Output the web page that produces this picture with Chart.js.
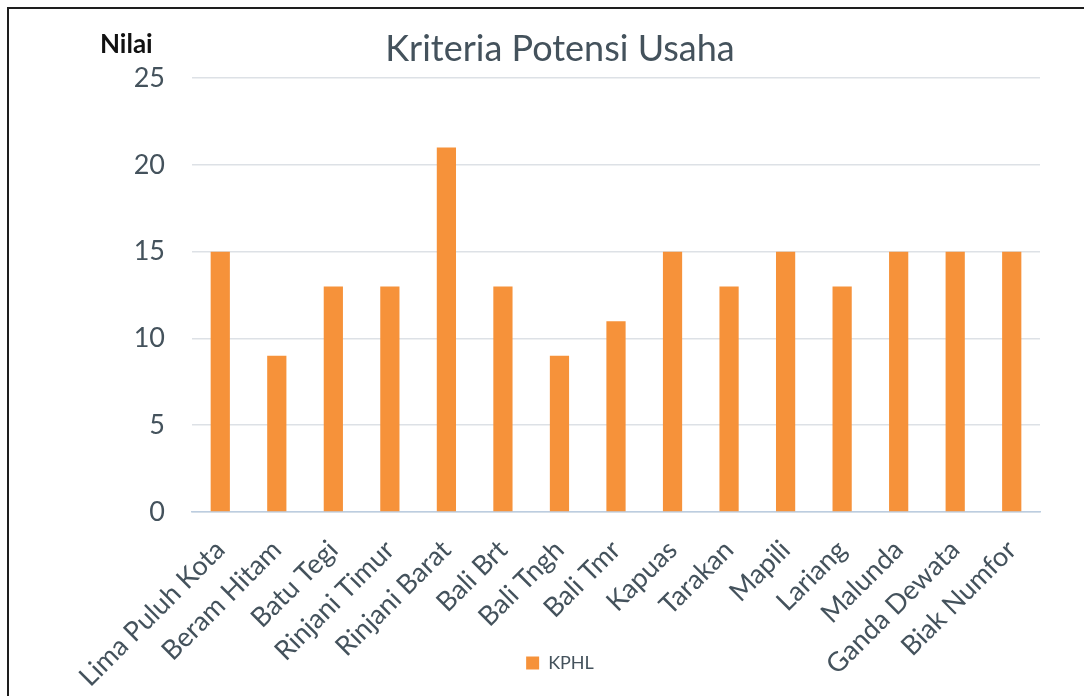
<!DOCTYPE html>
<html>
<head>
<meta charset="utf-8">
<script src="https://cdn.jsdelivr.net/npm/chart.js@4"></script>
<style>
  html, body { margin: 0; padding: 0; background: #ffffff; }
  #wrap { position: relative; width: 1084px; height: 696px; }
  #frame { position: absolute; left: 7px; top: 7px; right: -10px; bottom: -10px;
           border-left: 2px solid #1e1e1e; border-top: 2px solid #1e1e1e; pointer-events: none; }
  canvas { position: absolute; left: 0; top: 0; }
</style>
</head>
<body>
<div id="wrap">
  <canvas id="c" width="1084" height="696"></canvas>
  <div id="frame"></div>
</div>
<script>
const chartTitle = 'Kriteria Potensi Usaha';
const yAxisLabel = 'Nilai';
const seriesName = 'KPHL';
const categories = ['Lima Puluh Kota', 'Beram Hitam', 'Batu Tegi', 'Rinjani Timur', 'Rinjani Barat',
  'Bali Brt', 'Bali Tngh', 'Bali Tmr', 'Kapuas', 'Tarakan', 'Mapili', 'Lariang', 'Malunda',
  'Ganda Dewata', 'Biak Numfor'];
const values = [15, 9, 13, 13, 21, 13, 9, 11, 15, 13, 15, 13, 15, 15, 15];
const yTicks = [0, 5, 10, 15, 20, 25];

const textColor = '#44525c';
const fontFamily = 'Lato, "Open Sans", sans-serif';

const nilaiPlugin = {
  id: 'nilai',
  afterLayout(chart) {
    // let the rotated category labels run down to the bottom of the canvas
    const xs = chart.scales.x;
    xs.bottom = chart.height;
  },
  afterDraw(chart) {
    const ctx = chart.ctx;
    ctx.save();
    ctx.font = 'bold 26px ' + fontFamily;
    ctx.fillStyle = '#111111';
    ctx.textAlign = 'left';
    ctx.textBaseline = 'alphabetic';
    ctx.fillText(yAxisLabel, 100, 53);
    ctx.restore();
  }
};

new Chart(document.getElementById('c'), {
  type: 'bar',
  data: {
    labels: categories,
    datasets: [{
      label: seriesName,
      data: values,
      backgroundColor: '#f6923a',
      borderWidth: 0,
      categoryPercentage: 1,
      barPercentage: 0.34
    }]
  },
  options: {
    responsive: false,
    animation: false,
    devicePixelRatio: 1,
    layout: { padding: { top: 0, right: 44, bottom: 14, left: 80 } },
    plugins: {
      title: {
        display: true,
        text: chartTitle,
        color: textColor,
        font: { family: fontFamily, size: 36, weight: 'normal', lineHeight: 1.2 },
        padding: { top: 28, bottom: 7 }
      },
      legend: {
        display: true,
        position: 'bottom',
        labels: {
          color: textColor,
          font: { family: fontFamily, size: 18 },
          boxWidth: 13,
          boxHeight: 13,
          padding: 10
        }
      },
      tooltip: { enabled: false }
    },
    scales: {
      x: {
        grid: { display: false, drawTicks: false },
        border: { display: true, color: '#bccde0', width: 1.5 },
        ticks: {
          color: textColor,
          font: { family: fontFamily, size: 27 },
          autoSkip: false,
          minRotation: 45,
          maxRotation: 45,
          padding: 22
        },
        afterFit(scale) { scale.height = 132; }
      },
      y: {
        min: 0,
        max: 25,
        afterBuildTicks(scale) { scale.ticks = yTicks.map(v => ({ value: v })); },
        grid: { color: '#dde1e6', lineWidth: 1.5, drawTicks: false },
        border: { display: false },
        ticks: {
          color: textColor,
          font: { family: fontFamily, size: 27 },
          padding: 27
        },
        afterFit(scale) { scale.width = 112; }
      }
    }
  },
  plugins: [nilaiPlugin]
});
</script>
</body>
</html>
